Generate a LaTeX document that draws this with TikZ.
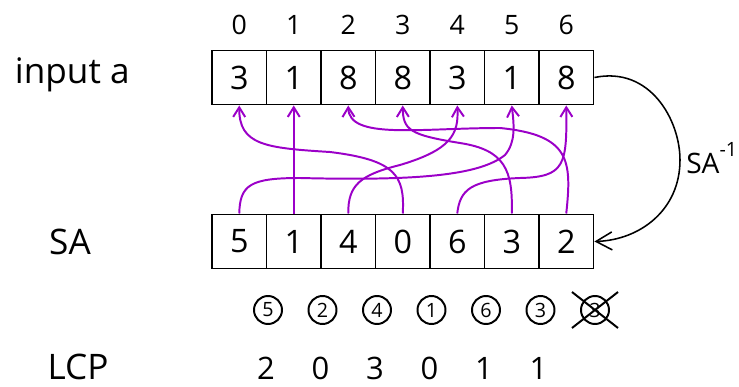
\documentclass[tikz,border=0pt]{standalone}
\usepackage{fontspec}
\setmainfont{Open Sans}
\usetikzlibrary{arrows.meta}
\usetikzlibrary{shapes.misc}
\usetikzlibrary{positioning}
\definecolor{sapurple}{RGB}{155,0,200}

\begin{document}
\begin{tikzpicture}[x=0.025cm,y=-0.025cm]
                \tikzset{cell/.style = {shape=rectangle,draw,line width=1.4pt,minimum width=1.3625cm,minimum height=1.35cm,inner sep=0pt,font=\fontsize{23}{27}\selectfont}}
                \tikzset{idx/.style = {font=\fontsize{19}{23}\selectfont}}
                \tikzset{rank/.style = {shape=circle,draw,line width=1.4pt,minimum size=0.7cm,inner sep=0pt,font=\fontsize{14}{17}\selectfont}}
                \tikzset{lcp/.style = {anchor=base,inner sep=1pt,font=\fontsize{22}{26}\selectfont}}
                \tikzset{label/.style = {font=\fontsize{25}{29}\selectfont}}
                \tikzset{link/.style = {-{Straight Barb[length=2.4mm,width=3mm]},line width=1.4pt,draw=sapurple}}
                \tikzset{inv/.style = {-{Straight Barb[length=4mm,width=4.5mm]},line width=1.1pt}}

                \useasboundingbox (0,0) rectangle (739,387);

                \node[label,anchor=west] (inp) at (10,75) {input a};
                \node[label] (sa) at (70,242) {SA};
                \node[label,anchor=base,inner sep=1pt] (lcptext) at (78,379) {LCP};

                \foreach \v [count=\i from 0] in {3,1,8,8,3,1,8}
                {
                    \node[cell] (a\i) at (239.25+54.5*\i,77.5) {\v};
                    \node[idx] (n\i) at (239.25+54.5*\i,25) {\i};
                }
                \foreach \v [count=\i from 0] in {5,1,4,0,6,3,2}
                    \node[cell] (s\i) at (239.25+54.5*\i,241.5) {\v};
                \foreach \v [count=\i from 0] in {5,2,4,1,6,3,3}
                    \node[rank] (r\i) at (268+54.5*\i,310) {\v};
                \node[cross out,draw,line width=1.4pt,minimum width=1.1cm,minimum height=0.85cm] (x6) at (r6) {};
                \foreach \v [count=\i from 0] in {2,0,3,0,1,1}
                    \node[lcp] (l\i) at (266+54.5*\i,379) {\v};

                % SA[i] -> a[SA[i]]
                \draw[link] (s0.north) .. controls (240,185) and (250,178) .. (300,178)
                    .. controls (420,181) and (480,175) .. (505,155)
                    .. controls (516,142) and (514,125) .. (a5.south);
                \draw[link] (s1.north) -- (a1.south);
                \draw[link] (s2.north) .. controls (348,185) and (360,175) .. (400,165)
                    .. controls (450,150) and (459,135) .. (a4.south);
                \draw[link] (s3.north) .. controls (405,175) and (395,160) .. (330,152)
                    .. controls (265,148) and (239,145) .. (a0.south);
                \draw[link] (s4.north) .. controls (460,190) and (470,180) .. (520,178)
                    .. controls (565,177) and (567,165) .. (a6.south);
                \draw[link] (s5.north) .. controls (513,170) and (505,150) .. (460,143)
                    .. controls (410,135) and (403,130) .. (a3.south);
                \draw[link] (s6.north) .. controls (572,160) and (570,135) .. (500,128)
                    .. controls (420,128) and (349,140) .. (a2.south);

                \draw[inv] (a6.east) .. controls (650,66) and (680,120) .. (680,160)
                    .. controls (680,210) and (640,240) .. (s6.east);
                \node[anchor=west,inner sep=0pt,font=\fontsize{20}{24}\selectfont] (inverse) at (686,158) {SA\raisebox{1.1ex}{\fontsize{14}{16}\selectfont -1}};
\end{tikzpicture}
\end{document}
